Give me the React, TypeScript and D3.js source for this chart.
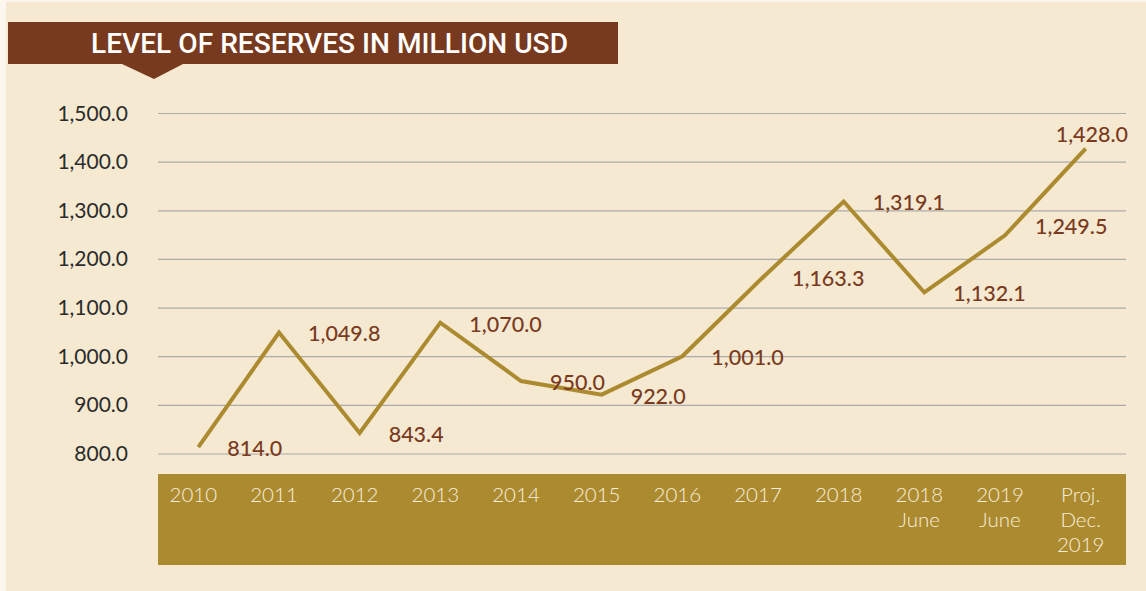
import React from "react";
import * as d3 from "d3";

const categories: string[][] = [
  ["2010"], ["2011"], ["2012"], ["2013"], ["2014"], ["2015"], ["2016"], ["2017"], ["2018"],
  ["2018", "June"], ["2019", "June"], ["Proj.", "Dec.", "2019"],
];
const reserves: number[] = [814.0, 1049.8, 843.4, 1070.0, 950.0, 922.0, 1001.0, 1163.3, 1319.1, 1132.1, 1249.5, 1428.0];
const yTicks: number[] = [800, 900, 1000, 1100, 1200, 1300, 1400, 1500];
const title = "LEVEL OF RESERVES IN MILLION USD";

const W = 1146;
const H = 591;
const BG = "#F5E9D1";
const BROWN = "#783A1E";
const GOLD = "#AC8A2F";
const LABEL = "#7A3A1E";
const FONT = "Lato, 'Open Sans', sans-serif";

const fmt = d3.format(",.1f");

export default function App() {
  const keys = categories.map((c) => c.join(" "));
  const x = d3.scaleBand<string>().domain(keys).range([158, 1126]).padding(0);
  const y = d3.scaleLinear().domain([800, 1500]).range([454, 113.5]);
  const cx = (i: number) => (x(keys[i]) as number) + x.bandwidth() / 2;

  const line = d3
    .line<number>()
    .x((_, i) => cx(i))
    .y((d) => y(d));

  const labelOffset = (i: number): [number, number, string] => {
    if (i === reserves.length - 1) return [-30, -7, "start"];
    if (i === reserves.length - 2) return [30, -1, "start"];
    return [29, 9, "start"];
  };

  return (
    <svg
      width={W}
      height={H}
      viewBox={`0 0 ${W} ${H}`}
      style={{ position: "absolute", left: 0, top: 0, display: "block" }}
    >
      <rect x={0} y={0} width={W} height={H} fill="#FBF7EE" />
      <rect x={6} y={2} width={W - 6} height={H - 2} fill={BG} />

      {/* Title banner */}
      <rect x={8} y={22} width={610} height={42} fill={BROWN} />
      <path d="M122,64 L183,64 L154,79 Z" fill={BROWN} />
      <text
        x={91}
        y={53}
        fill="#FFFFFF"
        fontFamily="Roboto, 'Open Sans', sans-serif"
        fontWeight={500}
        fontSize={27}
        textLength={477}
        lengthAdjust="spacingAndGlyphs"
      >
        {title}
      </text>

      {/* Gridlines and y labels */}
      {yTicks.map((t) => (
        <g key={t}>
          <line x1={158} x2={1126} y1={y(t)} y2={y(t)} stroke="#ABABAB" strokeWidth={1.2} />
          <text
            x={128}
            y={y(t) + 7}
            textAnchor="end"
            fill="#2B2B2B"
            fontFamily={FONT}
            fontSize={21}
          >
            {fmt(t)}
          </text>
        </g>
      ))}

      {/* X band */}
      <rect x={158} y={474} width={968} height={91} fill={GOLD} />
      {categories.map((c, i) => (
        <text
          key={keys[i]}
          x={cx(i) - 5}
          y={502}
          textAnchor="middle"
          fill="#F7EEDC"
          fontFamily={FONT}
          fontWeight={300}
          fontSize={20.5}
        >
          {c.map((s, j) => (
            <tspan key={j} x={cx(i) - 5} dy={j === 0 ? 0 : 24.8}>
              {s}
            </tspan>
          ))}
        </text>
      ))}

      {/* Line */}
      <path
        d={line(reserves) || ""}
        fill="none"
        stroke={GOLD}
        strokeWidth={4}
        strokeLinejoin="miter"
      />

      {/* Data labels */}
      {reserves.map((v, i) => {
        const [dx, dy, anchor] = labelOffset(i);
        return (
          <text
            key={i}
            x={cx(i) + dx}
            y={y(v) + dy}
            textAnchor={anchor as any}
            fill={LABEL}
            fontFamily={FONT}
            fontWeight={500}
            fontSize={21.5}
          >
            {fmt(v)}
          </text>
        );
      })}
    </svg>
  );
}
